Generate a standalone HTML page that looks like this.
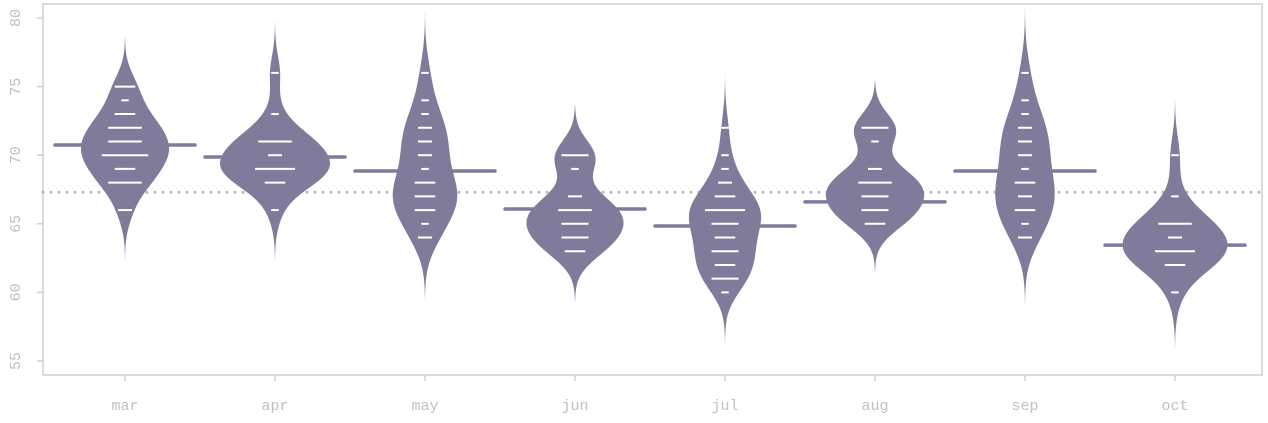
<!DOCTYPE html>
<html><head><meta charset="utf-8"><style>
body{margin:0;background:#fff;}
svg text{font-family:"Liberation Mono",monospace;fill:#c0c0c0;}
</style></head><body>
<svg id="chart" width="1268" height="418">
<rect x="43" y="4" width="1219" height="371" fill="none" stroke="#cfcfcf" stroke-width="1.5"/>
<g id="yaxis"></g>
<g id="xaxis"></g>
<g id="beans"></g>
</svg>
<script>
const categories = ["mar","apr","may","jun","jul","aug","sep","oct"];
const yTicks = [55,60,65,70,75,80];
const overallMean = 67.3;
const means = [70.74,69.87,68.85,66.08,64.84,66.6,68.85,63.45];
const bandwidths = [1.2,1.25,1.5,1.2,1.3,1.15,1.6,1.4];
const marVals=[75,74,73,72,71,70,69,68,66], marCnt=[3,1,3,5,5,7,3,5,2];
const aprVals=[76,73,71,70,69,68,66], aprCnt=[1,1,5,2,6,3,1];
const mayVals=[76,74,73,72,71,70,69,68,67,66,65,64], mayCnt=[1,1,1,2,2,2,1,3,3,3,1,2];
const junVals=[70,69,67,66,65,64,63], junCnt=[4,1,2,5,4,4,3];
const julVals=[72,70,69,68,67,66,65,64,63,62,61,60], julCnt=[1,1,1,2,3,6,4,3,4,3,4,1];
const augVals=[72,71,69,68,67,66,65], augCnt=[4,1,2,5,4,4,3];
const sepVals=[76,74,73,72,71,70,69,68,67,66,65,64], sepCnt=[1,1,1,2,2,2,1,3,2,3,1,2];
const octVals=[70,67,65,64,63,62,60], octCnt=[1,1,5,2,6,3,1];
const allVals=[marVals,aprVals,mayVals,junVals,julVals,augVals,sepVals,octVals];
const allCnt=[marCnt,aprCnt,mayCnt,junCnt,julCnt,augCnt,sepCnt,octCnt];

const NS="http://www.w3.org/2000/svg";
const y = v => 361 - (v-55)*13.72;
const x = i => 125 + i*150;
function el(t,a,p){const e=document.createElementNS(NS,t);for(const k in a)e.setAttribute(k,a[k]);p.appendChild(e);return e;}
const ya=document.getElementById('yaxis'), xa=document.getElementById('xaxis'), bg=document.getElementById('beans');
yTicks.forEach(t=>{
  const l=el('line',{x1:37,x2:43,y1:y(t),y2:y(t),stroke:'#cfcfcf','stroke-width':1.5},ya);
  
  
  const tx=el('text',{x:0,y:0,'font-size':15,'text-anchor':'middle',transform:`translate(20,${y(t)}) rotate(-90)`},ya);
  tx.textContent=t;
  
  
});
categories.forEach((c,i)=>{
  const l=el('line',{x1:x(i),x2:x(i),y1:375,y2:381,stroke:'#cfcfcf','stroke-width':1.5},xa);
  
  
  const tx=el('text',{x:x(i),y:410,'font-size':15,'text-anchor':'middle'},xa);
  tx.textContent=c;
  
  
});
// densities
function dens(i,v){const vs=allVals[i],cs=allCnt[i],h=bandwidths[i];let n=0,s=0;
  vs.forEach((d,k)=>{n+=cs[k];s+=cs[k]*Math.exp(-0.5*((v-d)/h)**2)/(h*Math.sqrt(2*Math.PI));});return s/n;}
const curves=[];let gmax=0;
categories.forEach((c,i)=>{const vs=allVals[i],h=bandwidths[i];
  const lo=Math.min(...vs)-3*h, hi=Math.max(...vs)+3*h;const pts=[];
  for(let k=0;k<=200;k++){const v=lo+(hi-lo)*k/200;const d=dens(i,v);pts.push([v,d]);if(d>gmax)gmax=d;}
  curves.push(pts);});
const maxHalf=55;
// overall mean line first
const om=el('line',{x1:43,x2:1262,y1:y(overallMean),y2:y(overallMean),stroke:'#b5b2cb','stroke-width':3,'stroke-dasharray':'0 8','stroke-linecap':'round'},bg);


categories.forEach((c,i)=>{
  const g=el('g',{},bg);
  
  
  const pts=curves[i];
  let d='M'+pts.map(p=>`${x(i)+p[1]/gmax*maxHalf},${y(p[0])}`).join(' L');
  d+=' L'+pts.slice().reverse().map(p=>`${x(i)-p[1]/gmax*maxHalf},${y(p[0])}`).join(' L')+'Z';
  const pa=el('path',{d,fill:'#807b9b'},g);
  
  
  const ml=el('line',{x1:x(i)-70,x2:x(i)+70,y1:y(means[i]),y2:y(means[i]),stroke:'#807b9b','stroke-width':3.5,'stroke-linecap':'round'},g);
  
  
  allVals[i].forEach((v,k)=>{const w=allCnt[i][k]*6.5+1;
    const bl=el('line',{x1:x(i)-w/2,x2:x(i)+w/2,y1:y(v),y2:y(v),stroke:'#fff','stroke-width':2},g);
    
    
  });
});
</script>
</body></html>
